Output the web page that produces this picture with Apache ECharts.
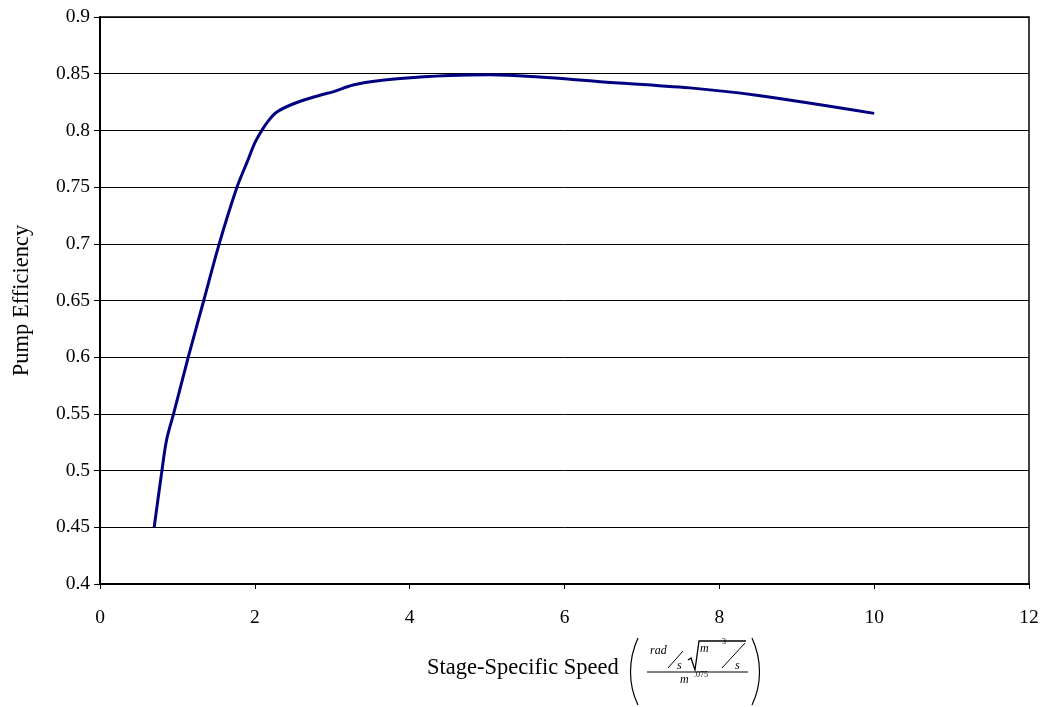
<!DOCTYPE html>
<html>
<head>
<meta charset="utf-8">
<script src="https://cdn.jsdelivr.net/npm/echarts@6/dist/echarts.min.js"></script>
<style>html,body{margin:0;padding:0;background:#fff}#c{width:1047px;height:707px}</style>
</head>
<body>
<div id="c"></div>
<script>
// Stage-specific speed (x) and pump efficiency (y)
var speed = [0.70, 0.80, 0.86, 0.95, 1.14, 1.34, 1.54, 1.77, 1.90, 2.00, 2.09, 2.17, 2.28, 2.50, 2.84, 3.01, 3.27, 3.62, 4.13, 4.52, 5.04, 5.68, 6.46, 7.62, 8.48, 10.0];
var efficiency = [0.45, 0.50, 0.527, 0.55, 0.60, 0.65, 0.70, 0.75, 0.772, 0.789, 0.800, 0.808, 0.816, 0.8235, 0.831, 0.834, 0.840, 0.844, 0.847, 0.8485, 0.849, 0.847, 0.843, 0.8375, 0.831, 0.815];
var xTitle = 'Stage-Specific Speed';
var yTitle = 'Pump Efficiency';

var FONT = '"Liberation Serif", "Times New Roman", serif';
var points = speed.map(function (x, i) { return [x, efficiency[i]]; });

var chart = echarts.init(document.getElementById('c'));
chart.setOption({
  animation: false,
  backgroundColor: '#fff',
  grid: { left: 100, right: 18, top: 17, bottom: 123, show: true, borderColor: '#000', borderWidth: 1.5,
          containLabel: false, outerBoundsMode: 'none' },
  xAxis: {
    type: 'value', min: 0, max: 12, interval: 2,
    axisLine: { lineStyle: { color: '#000', width: 2 } },
    axisTick: { show: true, inside: false, length: 5, lineStyle: { color: '#000' } },
    axisLabel: { color: '#000', fontFamily: FONT, fontSize: 19.5, margin: 24 },
    splitLine: { show: false }
  },
  yAxis: {
    type: 'value', min: 0.4, max: 0.9, interval: 0.05,
    name: yTitle, nameLocation: 'middle', nameGap: 66,
    nameTextStyle: { color: '#000', fontFamily: FONT, fontSize: 22.5 },
    axisLine: { lineStyle: { color: '#000', width: 2 } },
    axisTick: { show: true, inside: false, length: 6, lineStyle: { color: '#000' } },
    axisLabel: { color: '#000', fontFamily: FONT, fontSize: 19.5, margin: 10,
      formatter: function (v) { return String(Math.round(v * 100) / 100); } },
    splitLine: { show: true, lineStyle: { color: '#000', width: 1 } }
  },
  series: [{
    type: 'line', data: points, smooth: 0.35, showSymbol: false,
    lineStyle: { color: '#000080', width: 3 }
  }],
  graphic: [
    { type: 'text', left: 427, top: 657, style: { text: xTitle, font: '22.5px ' + FONT, fill: '#000' } },
    // left parenthesis
    { type: 'bezierCurve', shape: { x1: 638, y1: 638, x2: 638, y2: 705, cpx1: 628, cpy1: 660, cpx2: 628, cpy2: 684 }, style: { stroke: '#000', lineWidth: 1.2, fill: null } },
    // right parenthesis
    { type: 'bezierCurve', shape: { x1: 752, y1: 638, x2: 752, y2: 705, cpx1: 762, cpy1: 660, cpx2: 762, cpy2: 684 }, style: { stroke: '#000', lineWidth: 1.2, fill: null } },
    // numerator
    { type: 'text', left: 650, top: 645, style: { text: 'rad', font: 'italic 12px ' + FONT, fill: '#000' } },
    { type: 'line', shape: { x1: 668, y1: 668, x2: 683, y2: 651 }, style: { stroke: '#000', lineWidth: 1 } },
    { type: 'text', left: 677, top: 660, style: { text: 's', font: 'italic 12px ' + FONT, fill: '#000' } },
    { type: 'polyline', shape: { points: [[688, 660], [691, 658], [695, 670], [699, 641], [746, 641]] }, style: { stroke: '#000', lineWidth: 1.3, fill: null } },
    { type: 'text', left: 700, top: 643, style: { text: 'm', font: 'italic 12px ' + FONT, fill: '#000' } },
    { type: 'text', left: 722, top: 638, style: { text: '3', font: '8px ' + FONT, fill: '#000' } },
    { type: 'line', shape: { x1: 722, y1: 668, x2: 745, y2: 643 }, style: { stroke: '#000', lineWidth: 1 } },
    { type: 'text', left: 735, top: 660, style: { text: 's', font: 'italic 12px ' + FONT, fill: '#000' } },
    // fraction bar
    { type: 'line', shape: { x1: 647, y1: 672, x2: 748, y2: 672 }, style: { stroke: '#000', lineWidth: 1 } },
    // denominator
    { type: 'text', left: 680, top: 674, style: { text: 'm', font: 'italic 12px ' + FONT, fill: '#000' } },
    { type: 'text', left: 694, top: 671, style: { text: '.075', font: '8px ' + FONT, fill: '#000' } }
  ]
});
</script>
</body>
</html>
